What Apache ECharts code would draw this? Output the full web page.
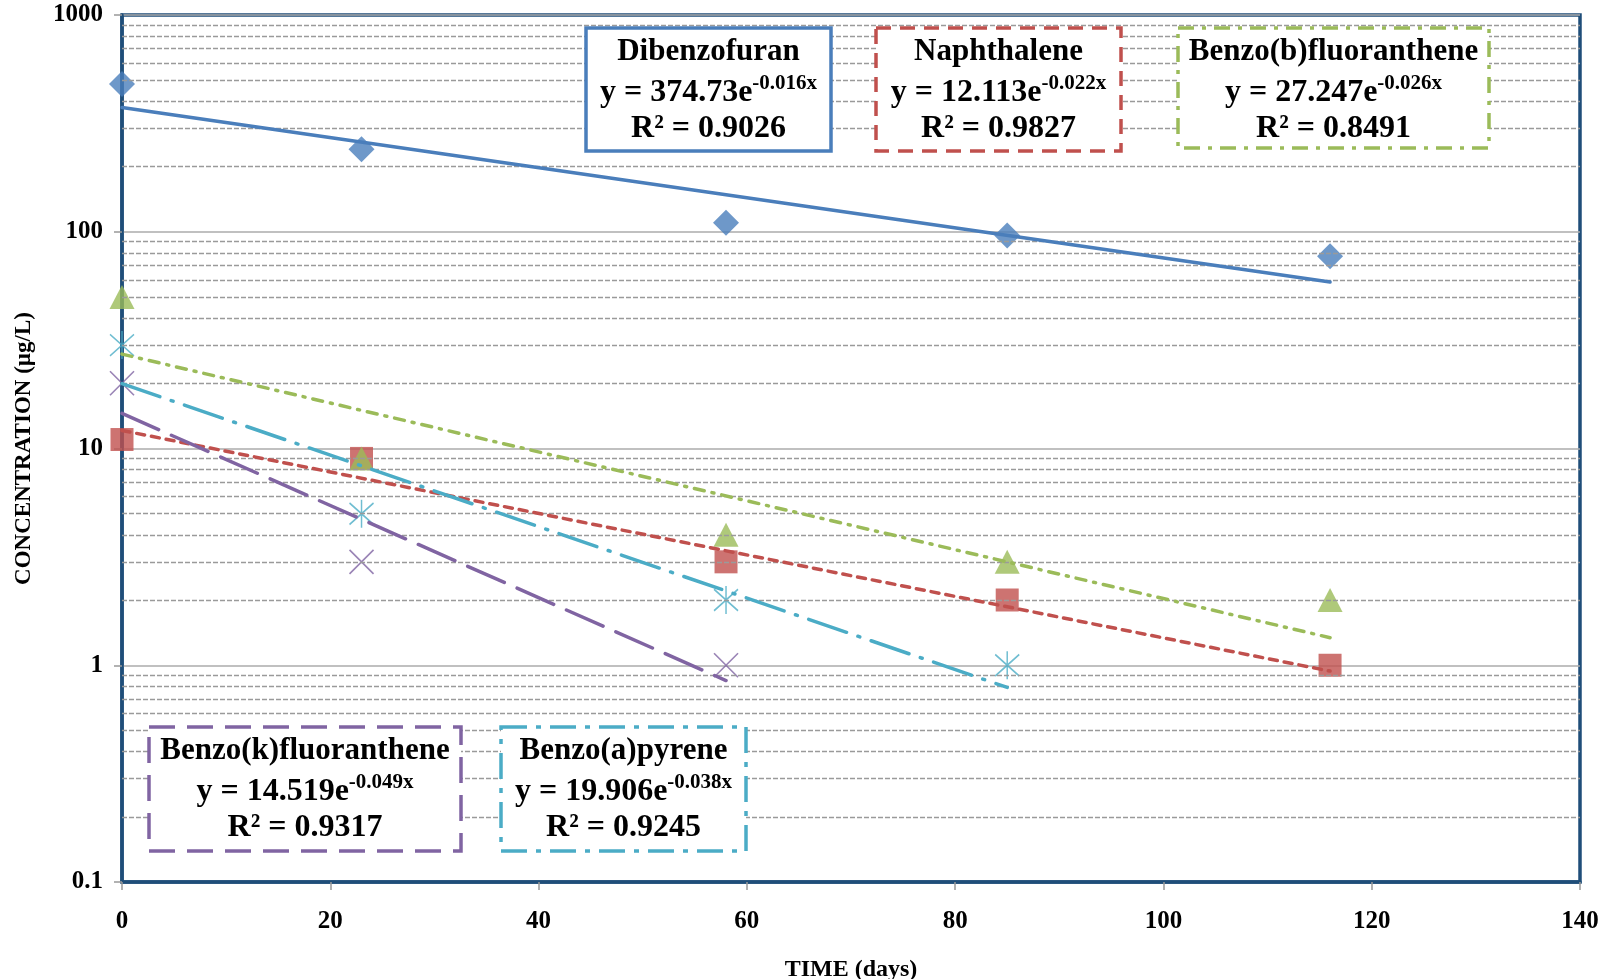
<!DOCTYPE html>
<html><head><meta charset="utf-8">
<script src="https://cdn.jsdelivr.net/npm/echarts@6/dist/echarts.min.js"></script>
<style>html,body{margin:0;padding:0;background:#fff}#c{width:1613px;height:979px}</style>
</head><body><div id="c"></div><script>
// ---- data ----
const days = [0, 23, 58, 85, 116];
const dibenzofuran = [480, 240, 110, 96, 77];
const naphthalene = [11, 9, 3, 2, 1];
const benzoBFluoranthene = [50, 9, 4, 3, 2];
const benzoKFluoranthene = [20, 3, 1];          // days 0, 23, 58
const benzoAPyrene = [30, 5, 2, 1];              // days 0, 23, 58, 85
// exponential trend lines (straight on log axis): [day, value] end points
const trendDibenzofuran = [[0, 374.7], [116, 58.6]];
const trendNaphthalene = [[0, 12.11], [116, 0.94]];
const trendBenzoBF = [[0, 27.25], [116, 1.34]];
const trendBenzoKF = [[0, 14.52], [58, 0.85]];
const trendBenzoAP = [[0, 19.91], [85, 0.79]];
const yTickLabels = ['0.1', '1', '10', '100', '1000'];
const minorMultipliers = [2, 3, 4, 5, 6, 7, 8, 9];
const decades = [0.1, 1, 10, 100];

const C = {blue:'#4A7EBB', red:'#C0504D', green:'#9BBB59', purple:'#8064A2', cyan:'#4BACC6'};
const SERIF = '"Liberation Serif", "Times New Roman", serif';
const pairs = (xs, ys) => ys.map((v, i) => [xs[i], v]);
const minorValues = [];
decades.forEach(d => minorMultipliers.forEach(m => minorValues.push(+(d * m).toPrecision(3))));

const xPath = 'path://M0,0L20,20M20,0L0,20';
const starPath = 'path://M0,3L20,23M20,3L0,23M10,0L10,26';

function scatter(name, data, symbol, size, color, stroke) {
  return {
    name, type: 'scatter', data, symbol, symbolSize: size, z: 4,
    itemStyle: stroke ? {color: 'none', borderColor: color, borderWidth: 1.6} : {color: color, borderWidth: 0},
    emphasis: {disabled: true}
  };
}
function trend(data, color, type) {
  return {
    type: 'line', data, showSymbol: false, symbol: 'none', z: 5, silent: true,
    lineStyle: {color, width: 3.5, type, cap: 'round'}
  };
}

const chart = echarts.init(document.getElementById('c'), null, {renderer: 'canvas'});

function box(x, y, w, h, color, dash, title, coef, expo, r2) {
  const cx = x + w / 2;
  const base = {fontFamily: SERIF, fontWeight: 'bold', fill: '#000'};
  return [
    {type: 'rect', z: 20, shape: {x, y, width: w, height: h},
     style: {fill: '#fff', stroke: color, lineWidth: 3.5, lineDash: dash}},
    {type: 'text', z: 21, style: Object.assign({}, base, {text: title, x: cx, y: y + 24, fontSize: 31,
      textAlign: 'center', textVerticalAlign: 'middle'})},
    {type: 'text', z: 21, style: Object.assign({}, base, {
      text: '{m|y = ' + coef + 'e}{s|' + expo + '}', x: cx, y: y + 63,
      textAlign: 'center', textVerticalAlign: 'middle',
      rich: {
        m: {fontFamily: SERIF, fontWeight: 'bold', fontSize: 32, lineHeight: 36, verticalAlign: 'bottom', fill: '#000'},
        s: {fontFamily: SERIF, fontWeight: 'bold', fontSize: 21, lineHeight: 22, verticalAlign: 'top', fill: '#000'}
      }})},
    {type: 'text', z: 21, style: Object.assign({}, base, {text: 'R² = ' + r2, x: cx, y: y + 101, fontSize: 32,
      textAlign: 'center', textVerticalAlign: 'middle'})}
  ];
}

const graphics = [].concat(
  box(586, 28, 245, 123, C.blue, null, 'Dibenzofuran', '374.73', '-0.016x', '0.9026'),
  box(876, 28, 245, 123, C.red, [15, 9], 'Naphthalene', '12.113', '-0.022x', '0.9827'),
  box(1178, 28, 311, 120, C.green, [16, 8, 4, 8], 'Benzo(b)fluoranthene', '27.247', '-0.026x', '0.8491'),
  box(149, 727, 312, 124, C.purple, [26, 12], 'Benzo(k)fluoranthene', '14.519', '-0.049x', '0.9317'),
  box(501, 727, 245, 124, C.cyan, [26, 9, 5, 9], 'Benzo(a)pyrene', '19.906', '-0.038x', '0.9245')
);

chart.setOption({
  animation: false,
  backgroundColor: '#fff',
  grid: {left: 122, right: 33, top: 15, bottom: 97, show: true, borderColor: '#1F4E79', borderWidth: 3.5,
    containLabel: false, outerBoundsMode: 'none'},
  xAxis: {
    type: 'value', min: 0, max: 140, interval: 20,
    name: 'TIME (days)', nameLocation: 'middle', nameGap: 76,
    nameTextStyle: {fontFamily: SERIF, fontWeight: 'bold', fontSize: 24, color: '#000'},
    axisLine: {show: true, lineStyle: {color: '#1F4E79', width: 3.5}},
    axisTick: {show: true, length: 8, lineStyle: {color: '#999', width: 1.5}},
    axisLabel: {fontFamily: SERIF, fontWeight: 'bold', fontSize: 25, color: '#000', margin: 27},
    splitLine: {show: false}
  },
  yAxis: {
    type: 'log', logBase: 10, min: 0.1, max: 1000,
    name: 'CONCENTRATION (µg/L)', nameLocation: 'middle', nameGap: 86, nameRotate: 90,
    nameTextStyle: {fontFamily: SERIF, fontWeight: 'bold', fontSize: 23, color: '#000'},
    axisLine: {show: true, lineStyle: {color: '#1F4E79', width: 3.5}},
    axisTick: {show: true, length: 8, lineStyle: {color: '#999', width: 1.5}},
    axisLabel: {fontFamily: SERIF, fontWeight: 'bold', fontSize: 25, color: '#000', margin: 19,
      formatter: v => yTickLabels[Math.round(Math.log10(v)) + 1]},
    splitLine: {show: true, lineStyle: {color: '#ABABAB', width: 1.6}}
  },
  series: [
    {type: 'line', data: [], z: 1, silent: true,
     markLine: {silent: true, symbol: 'none', label: {show: false}, animation: false,
       lineStyle: {type: [5, 2], color: '#9A9A9A', width: 1.3},
       data: minorValues.map(v => ({yAxis: v}))}},
    scatter('Dibenzofuran', pairs(days, dibenzofuran), 'diamond', [26, 26], C.blue, false),
    scatter('Naphthalene', pairs(days, naphthalene), 'rect', [23, 23], C.red, false),
    scatter('Benzo(b)fluoranthene', pairs(days, benzoBFluoranthene), 'triangle', [25, 24], C.green, false),
    scatter('Benzo(k)fluoranthene', pairs(days, benzoKFluoranthene), xPath, [24, 24], C.purple, true),
    scatter('Benzo(a)pyrene', pairs(days, benzoAPyrene), starPath, [24, 28], C.cyan, true),
    trend(trendDibenzofuran, C.blue, 'solid'),
    trend(trendNaphthalene, C.red, [8, 7]),
    trend(trendBenzoBF, C.green, [10, 8, 2, 8]),
    trend(trendBenzoKF, C.purple, [40, 14]),
    trend(trendBenzoAP, C.cyan, [40, 12, 2, 12])
  ],
  graphic: graphics
});
</script></body></html>
